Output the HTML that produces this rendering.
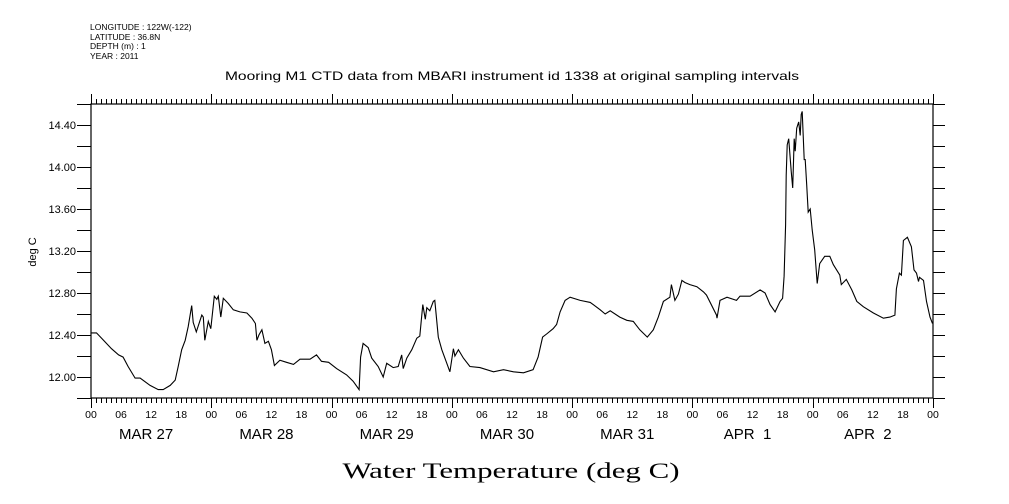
<!DOCTYPE html>
<html><head><meta charset="utf-8"><style>
body{margin:0;background:#fff;}
svg{display:block;font-family:"Liberation Sans",sans-serif;}
</style></head><body>
<svg id="chart" width="1009" height="504" viewBox="0 0 1009 504" xmlns="http://www.w3.org/2000/svg">
<g font-size="8.5" fill="#000">
<text x="90" y="30">LONGITUDE : 122W(-122)</text>
<text x="90" y="40">LATITUDE : 36.8N</text>
<text x="90" y="49">DEPTH (m) : 1</text>
<text x="90" y="59">YEAR : 2011</text>
</g>
<text x="512" y="80" font-size="12" text-anchor="middle" textLength="574" lengthAdjust="spacingAndGlyphs">Mooring M1 CTD data from MBARI instrument id 1338 at original sampling intervals</text>
<text transform="translate(36,252) rotate(-90)" font-size="11" text-anchor="middle">deg C</text>
<text x="511" y="478" font-family="Liberation Serif, serif" font-size="22" text-anchor="middle" textLength="337" lengthAdjust="spacingAndGlyphs">Water Temperature (deg C)</text>
<g id="axes"></g>
<g id="marks"></g>
</svg>
<script>
const hours=[0.1,1.1,2.5,4.1,5.5,6.4,7.4,8.8,9.8,11.8,13.4,14.4,15.8,16.8,17.4,18.1,18.8,19.4,20.1,20.4,21.0,22.1,22.4,22.7,23.4,23.9,24.6,25.1,25.4,25.9,26.4,27.4,28.4,29.7,31.1,32.1,32.8,33.1,33.5,34.1,34.7,35.4,36.0,36.6,37.7,39.0,40.4,41.7,43.7,45.0,46.0,47.4,49.0,51.0,52.3,53.5,53.8,54.3,55.3,56.0,57.3,58.3,59.0,60.3,61.3,62.0,62.3,63.0,64.0,65.0,65.6,66.2,66.7,67.0,67.6,68.3,68.6,69.3,70.0,71.0,71.6,72.3,72.6,73.3,74.3,75.6,77.6,80.3,82.3,84.3,86.3,88.2,89.2,90.1,90.9,92.2,92.9,93.6,94.6,95.6,97.6,99.6,100.2,101.6,102.6,103.6,105.5,106.9,108.2,109.5,111.0,112.2,113.2,114.2,115.5,115.8,116.5,117.2,117.9,118.5,119.5,120.9,122.2,122.8,124.8,124.9,125.5,126.9,128.8,129.5,131.5,133.5,134.5,135.5,136.5,137.5,138.0,138.3,138.6,138.7,138.9,139.2,139.7,140.0,140.3,140.5,140.8,141.2,141.5,141.7,141.9,142.3,142.5,142.8,143.1,143.5,143.9,144.4,144.9,145.4,146.4,147.4,148.1,149.4,149.7,150.7,151.8,152.8,154.1,156.1,158.1,159.4,160.4,160.7,161.3,161.7,162.1,162.9,163.7,164.2,164.7,165.1,165.3,166.1,166.7,167.4,167.9];
const temps=[12.42,12.42,12.35,12.27,12.21,12.19,12.10,11.99,11.99,11.92,11.88,11.88,11.92,11.97,12.10,12.26,12.35,12.48,12.68,12.52,12.43,12.59,12.57,12.35,12.53,12.46,12.77,12.74,12.77,12.57,12.75,12.70,12.64,12.62,12.61,12.56,12.51,12.35,12.40,12.45,12.32,12.34,12.26,12.11,12.16,12.14,12.12,12.17,12.17,12.21,12.15,12.14,12.08,12.02,11.96,11.88,12.19,12.32,12.28,12.18,12.10,12.00,12.13,12.09,12.10,12.21,12.08,12.18,12.26,12.37,12.39,12.69,12.55,12.66,12.63,12.72,12.73,12.38,12.26,12.13,12.05,12.27,12.20,12.26,12.18,12.10,12.09,12.05,12.07,12.05,12.04,12.07,12.19,12.38,12.41,12.46,12.50,12.62,12.73,12.76,12.73,12.71,12.69,12.64,12.60,12.63,12.57,12.54,12.53,12.45,12.38,12.45,12.57,12.72,12.76,12.88,12.73,12.79,12.92,12.90,12.88,12.86,12.81,12.78,12.59,12.56,12.73,12.76,12.73,12.77,12.77,12.83,12.80,12.69,12.62,12.72,12.75,12.96,13.45,13.92,14.21,14.27,13.96,13.80,14.27,14.15,14.37,14.43,14.30,14.50,14.53,14.07,14.07,13.83,13.57,13.60,13.40,13.21,12.89,13.08,13.15,13.15,13.07,12.97,12.88,12.93,12.83,12.72,12.67,12.61,12.56,12.57,12.59,12.84,12.99,12.97,13.30,13.33,13.24,13.02,12.99,12.91,12.95,12.92,12.72,12.57,12.51];
const yTickValues=[12.00,12.40,12.80,13.20,13.60,14.00,14.40];
const yTickLabels=["12.00","12.40","12.80","13.20","13.60","14.00","14.40"];
const dayLabels=["MAR 27","MAR 28","MAR 29","MAR 30","MAR 31","APR  1","APR  2"];
const hourLabels=["00","06","12","18"];

const L=91,R=933,T=104,B=398,yMin=11.8,yMax=14.6,hMax=168;
const NS="http://www.w3.org/2000/svg";
const xs=h=>L+(R-L)*h/hMax;
const ys=v=>B-(B-T)*(v-yMin)/(yMax-yMin);
const axes=document.getElementById('axes'),marks=document.getElementById('marks');
function mk(tag,at,parent){const e=document.createElementNS(NS,tag);for(const k in at)e.setAttribute(k,at[k]);parent.appendChild(e);return e;}

const frame=mk('rect',{x:L,y:T,width:R-L,height:B-T,fill:'none',stroke:'#000','stroke-width':1.2},axes);



let d='';
for(let v=11.8;v<=14.61;v+=0.2){const y=Math.round(ys(v))+0.5;d+=`M${L-14} ${y}H${L}M${R} ${y}H${R+12}`;}
for(let h=0;h<=hMax;h++){const x=Math.round(xs(h))+0.5;const len=(h%24===0)?10:5;d+=`M${x} ${T}V${T-len}M${x} ${B}V${B+len}`;}
const ticks=mk('path',{d:d,stroke:'#000','stroke-width':1,fill:'none'},axes);



yTickValues.forEach((v,i)=>{const t=mk('text',{x:76,y:ys(v)+4,'font-size':11,'text-anchor':'end'},axes);t.textContent=yTickLabels[i];

});

for(let h=0;h<=hMax;h+=6){const t=mk('text',{x:xs(h),y:418,'font-size':10.5,'text-anchor':'middle'},axes);t.textContent=hourLabels[(h/6)%4];

}

dayLabels.forEach((lab,i)=>{const t=mk('text',{x:xs(i*24+11),y:439,'font-size':15,'text-anchor':'middle','xml:space':'preserve'},axes);t.textContent=lab;t.style.whiteSpace='pre';

});

const pts=hours.map((h,i)=>xs(h).toFixed(1)+','+ys(temps[i]).toFixed(1)).join(' ');
const line=mk('polyline',{points:pts,fill:'none',stroke:'#000','stroke-width':1.1,'stroke-linejoin':'miter'},marks);


</script>
</body></html>
